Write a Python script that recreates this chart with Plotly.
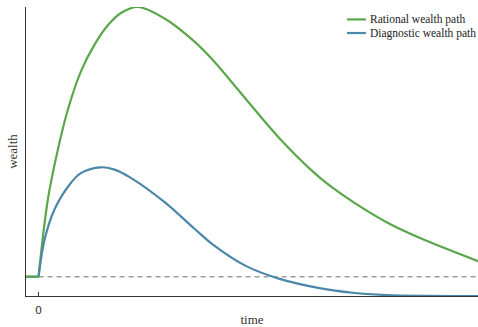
import plotly.graph_objects as go

# Wealth paths over time, starting from an initial wealth of 1 at t = 0
rational_t = [0, 0.74, 1.54, 2.33, 3.40, 4.46, 5.52, 6.59, 7.91, 10.04, 12.42,
              13.86, 16.54, 19.20, 21.83, 23.17, 25.01, 27.72, 30.34, 35.0]
rational_w = [1, 5.01, 7.60, 9.67, 11.70, 13.05, 14.05, 14.70, 15.0, 14.40, 13.20,
              12.26, 10.20, 8.18, 6.47, 5.74, 4.90, 3.83, 3.02, 1.81]

diagnostic_t = [0, 0.48, 1.27, 2.60, 3.40, 4.94, 6.05, 7.38, 10.04, 12.42, 13.86,
                16.54, 19.20, 22.38, 25.01, 27.72, 31.14, 35.0]
diagnostic_w = [1, 2.93, 4.49, 5.89, 6.39, 6.68, 6.56, 6.12, 4.87, 3.49, 2.68,
                1.55, 0.89, 0.41, 0.17, 0.05, 0.01, 0.0]

# before t = 0 both paths sit at the initial wealth
pre_t = [-1, 0]
initial_wealth = 1.0

x_ticks = [0]
x_range = [-1, 35]
y_range = [0, 15]

GREEN = "#5aa64b"
BLUE = "#4b87a8"
SERIF = "Liberation Serif"
LW = 2.2

fig = go.Figure()

# reference level: initial wealth
fig.add_trace(go.Scatter(
    x=[0, x_range[1]], y=[initial_wealth, initial_wealth], mode="lines",
    line=dict(color="#9d9d9d", width=1.3, dash="5px,4px"),
    showlegend=False, hoverinfo="skip"))

series = [
    ("Rational wealth path", rational_t, rational_w, GREEN),
    ("Diagnostic wealth path", diagnostic_t, diagnostic_w, BLUE),
]
for name, t, w, color in series:
    fig.add_trace(go.Scatter(
        x=t, y=w, mode="lines", name=name, showlegend=False,
        line=dict(color=color, width=LW, shape="spline", smoothing=1.0)))
for name, t, w, color in reversed(series):
    fig.add_trace(go.Scatter(
        x=pre_t, y=[initial_wealth] * len(pre_t), mode="lines", showlegend=False,
        line=dict(color=color, width=LW), hoverinfo="skip"))

# compact legend in the top-right corner
legend_x0, legend_x1, legend_tx = 0.710, 0.752, 0.756
legend_rows = [0.957, 0.910]
for (name, _, _, color), ly in zip(series, legend_rows):
    fig.add_shape(type="line", xref="paper", yref="paper",
                  x0=legend_x0, x1=legend_x1, y0=ly, y1=ly,
                  line=dict(color=color, width=LW))
    fig.add_annotation(xref="paper", yref="paper", x=legend_tx, y=ly,
                       xanchor="left", yanchor="middle", showarrow=False,
                       text=name, font=dict(family=SERIF, size=11.5, color="#222"))

fig.update_layout(
    width=478, height=327,
    margin=dict(l=26, r=0, t=7, b=30.5),
    plot_bgcolor="white", paper_bgcolor="white",
    showlegend=False,
    xaxis=dict(range=x_range, showgrid=False, zeroline=False, automargin=False,
               showline=True, linecolor="#333", linewidth=1,
               tickvals=x_ticks, ticktext=[str(v) for v in x_ticks],
               ticks="inside", ticklen=4, tickcolor="#333", ticklabelstandoff=4,
               tickfont=dict(family="DejaVu Sans", size=11, color="#333"),
               title=dict(text="time", font=dict(family=SERIF, size=13, color="#333"),
                          standoff=4)),
    yaxis=dict(range=y_range, showgrid=False, zeroline=False, automargin=False,
               showline=True, linecolor="#333", linewidth=1,
               showticklabels=False, ticks="",
               title=dict(text="wealth", font=dict(family=SERIF, size=13, color="#333"),
                          standoff=4)),
)

fig.write_html("out.html")
